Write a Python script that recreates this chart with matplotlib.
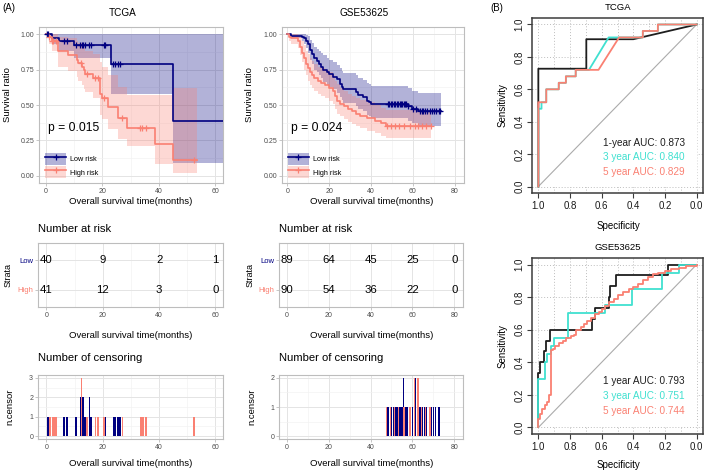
import numpy as np
import matplotlib
matplotlib.use('Agg')
import matplotlib.pyplot as plt
from matplotlib.patches import Patch
from matplotlib.lines import Line2D

plt.rcParams['font.family'] = ['Liberation Sans', 'DejaVu Sans']

# ===================== DATA =====================
# ---- TCGA Kaplan-Meier ----
tcga_low_t  = [0, 2.0, 4.5, 10.0, 23.0, 45.2, 62.8]
tcga_low_s  = [1.0, 0.975, 0.95, 0.92, 0.79, 0.39, 0.39]
tcga_low_lo = [1.0, 0.93, 0.88, 0.83, 0.575, 0.09, 0.09]
tcga_low_hi = [1.0, 1.0, 1.0, 1.0, 1.0, 1.0, 1.0]
tcga_low_cens_t = [0.4, 0.8, 6.3, 7.4, 10.6, 12.2, 12.7, 13.2, 13.7, 15.3, 15.8, 20.4, 20.9, 23.8, 24.4, 25.5, 26.1]
tcga_low_cens_n = [1, 1, 1, 1, 1, 2, 2, 2, 1, 2, 1, 1, 1, 1, 1, 1, 1]

tcga_high_t  = [0, 1.0, 2.0, 4.4, 7.9, 10.9, 11.5, 12.7, 13.3, 13.8, 16.8, 19.2, 19.8, 22.1, 25.7, 28.6, 38.7, 45.2, 53.5]
tcga_high_s  = [1.0, 0.976, 0.95, 0.88, 0.85, 0.82, 0.795, 0.77, 0.745, 0.72, 0.69, 0.58, 0.55, 0.485, 0.405, 0.34, 0.226, 0.113, 0.113]
tcga_high_lo = [1.0, 0.93, 0.88, 0.77, 0.74, 0.70, 0.67, 0.64, 0.61, 0.59, 0.55, 0.43, 0.40, 0.33, 0.26, 0.21, 0.085, 0.02, 0.02]
tcga_high_hi = [1.0, 1.0, 1.0, 0.98, 0.97, 0.95, 0.94, 0.92, 0.90, 0.88, 0.86, 0.80, 0.77, 0.71, 0.63, 0.57, 0.57, 0.62, 0.62]
tcga_high_cens_t = [1.2, 2.1, 2.6, 3.5, 12.4, 14.5, 17.4, 18.3, 20.5, 27.0, 33.5, 34.2, 35.4, 52.5]
tcga_high_cens_n = [1, 1, 1, 1, 3, 1, 1, 1, 1, 1, 1, 1, 1, 1]
tcga_p = "p = 0.015"

# ---- GSE53625 Kaplan-Meier ----
gse_low_t  = [0, 2, 7, 8, 9, 10, 11, 12, 13, 14, 15, 16, 17, 19, 20, 22, 24, 25, 26, 26.7, 33, 34, 36, 38, 39, 40, 57.5, 59.5, 62.5, 73.5]
gse_low_s  = [1.0, 0.99, 0.98, 0.97, 0.95, 0.93, 0.89, 0.86, 0.83, 0.81, 0.79, 0.77, 0.75, 0.73, 0.72, 0.70, 0.68, 0.65, 0.63, 0.61, 0.59, 0.57, 0.555, 0.53, 0.52, 0.51, 0.49, 0.47, 0.455, 0.455]
gse_low_hi = [1.0, 1.0, 1.0, 1.0, 0.995, 0.99, 0.96, 0.94, 0.91, 0.895, 0.88, 0.865, 0.85, 0.83, 0.82, 0.80, 0.785, 0.76, 0.74, 0.725, 0.71, 0.69, 0.675, 0.655, 0.645, 0.635, 0.62, 0.60, 0.585, 0.585]
gse_low_lo = [1.0, 0.97, 0.95, 0.93, 0.90, 0.87, 0.82, 0.79, 0.75, 0.73, 0.71, 0.69, 0.66, 0.64, 0.63, 0.61, 0.585, 0.555, 0.535, 0.515, 0.49, 0.47, 0.455, 0.43, 0.42, 0.41, 0.39, 0.37, 0.35, 0.35]
gse_low_cens_t = [48.0, 48.7, 49.4, 50.1, 50.9, 51.6, 52.4, 53.0, 53.7, 54.3, 55.0, 55.7, 56.4, 57.0, 57.6,
                  60.0, 61.6, 63.6, 64.2, 64.9, 65.8, 66.6, 68.3, 69.0, 70.2, 71.0, 72.4, 73.0]
gse_low_cens_n = [1, 1, 1, 1, 1, 1, 1, 1, 1, 1, 1, 2, 1, 1, 1,
                  1, 2, 1, 1, 1, 1, 1, 1, 1, 1, 1, 1, 1]

gse_high_t  = [0, 1, 2, 5, 6, 7, 8, 9, 10, 11, 12, 13, 14.5, 16, 18, 20, 22, 23, 24, 25, 27, 29, 31, 33, 35, 38, 42, 45, 47, 68.8]
gse_high_s  = [1.0, 0.98, 0.97, 0.95, 0.91, 0.87, 0.83, 0.79, 0.76, 0.73, 0.71, 0.69, 0.67, 0.655, 0.64, 0.62, 0.60, 0.56, 0.53, 0.51, 0.49, 0.47, 0.455, 0.44, 0.425, 0.41, 0.39, 0.37, 0.355, 0.355]
gse_high_hi = [1.0, 1.0, 1.0, 0.995, 0.98, 0.95, 0.92, 0.88, 0.86, 0.83, 0.81, 0.79, 0.77, 0.76, 0.745, 0.73, 0.71, 0.67, 0.645, 0.62, 0.60, 0.58, 0.565, 0.55, 0.535, 0.52, 0.50, 0.48, 0.465, 0.465]
gse_high_lo = [1.0, 0.95, 0.93, 0.90, 0.85, 0.80, 0.75, 0.71, 0.67, 0.64, 0.62, 0.60, 0.58, 0.565, 0.55, 0.53, 0.51, 0.47, 0.44, 0.42, 0.40, 0.38, 0.365, 0.35, 0.335, 0.32, 0.30, 0.28, 0.265, 0.265]
gse_high_cens_t = [47.5, 49.5, 51.3, 53.5, 56.0, 58.8, 61.0, 62.6, 64.5, 66.2, 68.5]
gse_high_cens_n = [1, 1, 1, 1, 1, 1, 2, 2, 1, 1, 1]
gse_p = "p = 0.024"

# ---- Number at risk ----
tcga_risk_times = [0, 20, 40, 60]
tcga_risk_low   = [40, 9, 2, 1]
tcga_risk_high  = [41, 12, 3, 0]
gse_risk_times  = [0, 20, 40, 60, 80]
gse_risk_low    = [89, 64, 45, 25, 0]
gse_risk_high   = [90, 54, 36, 22, 0]

# ---- ROC curves (specificity, sensitivity) ----
tcga_roc1_spec = [1.0, 1.0, 0.697, 0.697, 0.40, 0.0]
tcga_roc1_sens = [0.0, 0.727, 0.727, 0.909, 0.909, 1.0]
tcga_roc3_spec = [1.0, 1.0, 0.98, 0.98, 0.95, 0.95, 0.871, 0.871, 0.826, 0.826, 0.764, 0.764, 0.68, 0.556, 0.34, 0.34, 0.245, 0.245, 0.0]
tcga_roc3_sens = [0.0, 0.48, 0.48, 0.52, 0.52, 0.60, 0.60, 0.64, 0.64, 0.68, 0.68, 0.72, 0.72, 0.92, 0.92, 0.96, 0.96, 1.0, 1.0]
tcga_roc5_spec = [1.0, 1.0, 0.95, 0.95, 0.871, 0.871, 0.826, 0.826, 0.764, 0.764, 0.62, 0.49, 0.34, 0.34, 0.245, 0.245, 0.0]
tcga_roc5_sens = [0.0, 0.52, 0.52, 0.60, 0.60, 0.64, 0.64, 0.68, 0.68, 0.72, 0.72, 0.92, 0.92, 0.96, 0.96, 1.0, 1.0]
tcga_auc_labels = ["1-year AUC: 0.873", "3 year AUC: 0.840", "5 year AUC: 0.829"]

gse_roc1_spec = [1.0, 1.0, 0.99, 0.965, 0.95, 0.929, 0.66, 0.645, 0.553, 0.549, 0.51, 0.178, 0.0]
gse_roc1_sens = [0.0, 0.333, 0.40, 0.467, 0.533, 0.60, 0.667, 0.733, 0.80, 0.867, 0.933, 1.0, 1.0]
gse_roc3_spec = [1.0, 1.0, 0.96, 0.944, 0.919, 0.898, 0.81, 0.577, 0.41, 0.218, 0.11, 0.0]
gse_roc3_sens = [0.0, 0.30, 0.40, 0.45, 0.50, 0.55, 0.70, 0.75, 0.85, 0.95, 1.0, 1.0]
gse_roc5_spec = [1.0, 1.0, 0.988, 0.975, 0.96, 0.946, 0.932, 0.919, 0.909, 0.892, 0.871, 0.846, 0.826, 0.795,
                 0.774, 0.76, 0.73, 0.71, 0.69, 0.67, 0.64, 0.618, 0.598, 0.577, 0.556, 0.525, 0.494, 0.463,
                 0.43, 0.40, 0.37, 0.34, 0.307, 0.276, 0.245, 0.203, 0.16, 0.11, 0.068, 0.0]
gse_roc5_sens = [0.0, 0.05, 0.083, 0.114, 0.135, 0.156, 0.197, 0.477, 0.483, 0.498, 0.519, 0.533, 0.55, 0.56,
                 0.57, 0.60, 0.616, 0.637, 0.653, 0.67, 0.695, 0.71, 0.726, 0.747, 0.768, 0.788, 0.81, 0.83,
                 0.85, 0.86, 0.88, 0.907, 0.923, 0.94, 0.95, 0.96, 0.97, 0.98, 0.99, 1.0]
gse_auc_labels = ["1 year AUC: 0.793", "3 year AUC: 0.751", "5 year AUC: 0.744"]

km_yticks = [0.0, 0.25, 0.5, 0.75, 1.0]
km_yticklabels = ["0.00", "0.25", "0.50", "0.75", "1.00"]
roc_ticks = [0.0, 0.2, 0.4, 0.6, 0.8, 1.0]
roc_ticklabels = ["0.0", "0.2", "0.4", "0.6", "0.8", "1.0"]

# ===================== STYLE / LAYOUT =====================
NAVY = '#000080'
SALMON = '#FA8072'
TURQ = '#40E0D0'
BLACK = '#1E1E1E'
GRID_MAJ = '#E4E4E4'
GRID_MIN = '#F2F2F2'
BORDER = '#BDBDBD'
TXT = '#4D4D4D'

W, H = 709, 475
fig = plt.figure(figsize=(W / 100, H / 100), dpi=100)
fig.patch.set_facecolor('white')


def add_ax(l, t, r, b):
    return fig.add_axes([l / W, 1 - b / H, (r - l) / W, (b - t) / H])


def ftext(x, y, s, **kw):
    kw.setdefault('ha', 'center')
    kw.setdefault('va', 'center')
    fig.text(x / W, 1 - y / H, s, **kw)


def gg(ax, xlim, ylim, xt, xm, yt, ym, ytl=None):
    ax.set_xlim(xlim)
    ax.set_ylim(ylim)
    ax.set_xticks(xt)
    ax.set_xticks(xm, minor=True)
    ax.set_yticks(yt)
    ax.set_yticks(ym, minor=True)
    if ytl is not None:
        ax.set_yticklabels(ytl)
    ax.grid(True, which='major', color=GRID_MAJ, lw=0.7)
    ax.grid(True, which='minor', color=GRID_MIN, lw=0.45)
    ax.set_axisbelow(True)
    for sp in ax.spines.values():
        sp.set_color(BORDER)
        sp.set_linewidth(0.8)
    ax.tick_params(which='major', length=2, width=0.6, color=BORDER,
                   labelsize=5, labelcolor=TXT, pad=1.5)
    ax.tick_params(which='minor', length=0)


def km_panel(ax, groups, ptxt, xlim, xt, xm):
    gg(ax, xlim, (-0.05, 1.05), xt, xm, km_yticks, [0.125, 0.375, 0.625, 0.875], km_yticklabels)
    for t, s, lo, hi, ct, col in groups:
        t = np.asarray(t)
        s = np.asarray(s)
        ax.fill_between(t, lo, hi, step='post', color=col, alpha=0.3, lw=0, zorder=1)
        ax.step(t, s, where='post', color=col, lw=1.2, zorder=3)
        idx = np.searchsorted(t, ct, side='right') - 1
        ax.plot(ct, s[idx], ls='none', marker='+', ms=4.5, mew=0.9, color=col, zorder=4)
    ax.text(0.05, 0.352, ptxt, transform=ax.transAxes, fontsize=8.7, ha='left', va='center', color='black')
    handles = [(Patch(facecolor=NAVY, alpha=0.3, lw=0),
                Line2D([], [], color=NAVY, lw=1.2, marker='+', ms=4.5, mew=0.9)),
               (Patch(facecolor=SALMON, alpha=0.3, lw=0),
                Line2D([], [], color=SALMON, lw=1.2, marker='+', ms=4.5, mew=0.9))]
    ax.legend(handles, ['Low risk', 'High risk'], loc='lower left', bbox_to_anchor=(0.033, 0.03),
              frameon=False, fontsize=5.2, handlelength=2.9, handleheight=2.2,
              handletextpad=0.6, labelspacing=0.15, borderpad=0, borderaxespad=0)


def risk_panel(ax, times, low, high, xlim, xt, xm):
    gg(ax, xlim, (-0.6, 1.6), xt, xm, [0, 1], [], ['High', 'Low'])
    labs = ax.get_yticklabels()
    labs[0].set_color(SALMON)
    labs[1].set_color(NAVY)
    for lab in labs:
        lab.set_fontsize(5.5)
    for t, n in zip(times, low):
        ax.text(t, 1, str(n), ha='center', va='center', fontsize=8.2, color='black')
    for t, n in zip(times, high):
        ax.text(t, 0, str(n), ha='center', va='center', fontsize=8.2, color='black')


def cens_panel(ax, ct_low, n_low, ct_high, n_high, xlim, xt, xm, ymax, bw):
    yt = list(range(0, ymax + 1))
    ym = [v + 0.5 for v in range(0, ymax)]
    gg(ax, xlim, (-0.05 * ymax, 1.05 * ymax), xt, xm, yt, ym, [str(v) for v in yt])
    ax.bar(ct_low, n_low, width=bw, color=NAVY, lw=0, zorder=2)
    ax.bar(ct_high, n_high, width=bw, color=SALMON, lw=0, zorder=3)


def roc_panel(ax, curves, steps, labels, label_y):
    ax.set_xlim(1.04, -0.04)
    ax.set_ylim(-0.04, 1.04)
    for v in np.arange(0, 1.01, 0.1):
        ax.axvline(v, color='#BDBDBD', lw=0.7, ls=(0, (1, 2)), zorder=0.5)
    for h in np.arange(0, 1.01, 0.2):
        ax.axhline(h, color='#BDBDBD', lw=0.7, ls=(0, (1, 2)), zorder=0.5)
    for spec, sens, col in curves:
        ax.fill_between(spec, sens, 0, step=('post' if steps else None), color='white', lw=0, zorder=1)
    ax.plot([1, 0], [0, 1], color='#ABABAB', lw=0.8, zorder=1.5)
    for spec, sens, col in curves:
        if steps:
            ax.step(spec, sens, where='post', color=col, lw=1.3, zorder=3)
        else:
            ax.plot(spec, sens, color=col, lw=1.3, zorder=3)
    ax.set_xticks(roc_ticks)
    ax.set_xticklabels(roc_ticklabels)
    ax.set_yticks(roc_ticks)
    ax.set_yticklabels(roc_ticklabels, rotation=90, va='center')
    for sp in ax.spines.values():
        sp.set_color('#3C3C3C')
        sp.set_linewidth(1.1)
    ax.tick_params(length=3.5, width=0.8, color='#3C3C3C', labelsize=7, labelcolor='#1A1A1A', pad=2)
    for (spec, sens, col), lab, y in zip(curves, labels, label_y):
        ftext(603, y, lab, ha='left', fontsize=7.2, color=col)


# ===================== PANELS =====================
tcga_xt, tcga_xm = [0, 20, 40, 60], [10, 30, 50]
gse_xt, gse_xm = [0, 20, 40, 60, 80], [10, 30, 50, 70]

# KM
ax = add_ax(39, 27, 223, 183)
km_panel(ax, [(tcga_low_t, tcga_low_s, tcga_low_lo, tcga_low_hi, tcga_low_cens_t, NAVY),
              (tcga_high_t, tcga_high_s, tcga_high_lo, tcga_high_hi, tcga_high_cens_t, SALMON)],
         tcga_p, (-2.5, 62.8), tcga_xt, tcga_xm)
ax = add_ax(282, 27, 464, 183)
km_panel(ax, [(gse_low_t, gse_low_s, gse_low_lo, gse_low_hi, gse_low_cens_t, NAVY),
              (gse_high_t, gse_high_s, gse_high_lo, gse_high_hi, gse_high_cens_t, SALMON)],
         gse_p, (-2.5, 84.5), gse_xt, gse_xm)

# risk tables
ax = add_ax(38, 243, 223, 307)
risk_panel(ax, tcga_risk_times, tcga_risk_low, tcga_risk_high, (-3, 62.7), tcga_xt, tcga_xm)
ax = add_ax(279, 243, 463, 307)
risk_panel(ax, gse_risk_times, gse_risk_low, gse_risk_high, (-3.8, 84.2), gse_xt, gse_xm)

# censoring
ax = add_ax(38, 375, 223, 439)
cens_panel(ax, tcga_low_cens_t, tcga_low_cens_n, tcga_high_cens_t, tcga_high_cens_n,
           (-3, 62.7), tcga_xt, tcga_xm, 3, 0.6)
ax = add_ax(279, 375, 463, 439)
cens_panel(ax, gse_low_cens_t, gse_low_cens_n, gse_high_cens_t, gse_high_cens_n,
           (-3.8, 84.2), gse_xt, gse_xm, 2, 0.65)

# ROC
ax = add_ax(532, 18, 703, 193)
roc_panel(ax, [(tcga_roc1_spec, tcga_roc1_sens, BLACK),
               (tcga_roc3_spec, tcga_roc3_sens, TURQ),
               (tcga_roc5_spec, tcga_roc5_sens, SALMON)], False, tcga_auc_labels, [143, 157, 172])
ax = add_ax(532, 258, 703, 434)
roc_panel(ax, [(gse_roc1_spec, gse_roc1_sens, BLACK),
               (gse_roc3_spec, gse_roc3_sens, TURQ),
               (gse_roc5_spec, gse_roc5_sens, SALMON)], True, gse_auc_labels, [381, 396, 411])

# ===================== TEXT =====================
ftext(9, 8, "(A)", fontsize=7)
ftext(497, 8, "(B)", fontsize=7)

xlab = "Overall survival time(months)"
for cx, tl, lx in [(131, "TCGA", 8), (372, "GSE53625", 250)]:
    ftext(cx - 8, 13, tl, fontsize=7.2)
    ftext(cx, 201, xlab, fontsize=6.8)
    ftext(lx, 95, "Survival ratio", fontsize=6.8, rotation=90)
    ftext(cx, 335, xlab, fontsize=6.8)
    ftext(lx, 275, "Strata", fontsize=6.5, rotation=90)
    ftext(cx, 464, xlab, fontsize=6.8)
    ftext(lx + 2, 407, "n.censor", fontsize=6.8, rotation=90)
for lx in [38, 279]:
    ftext(lx, 229, "Number at risk", ha='left', fontsize=8.1)
    ftext(lx, 358, "Number of censoring", ha='left', fontsize=8.1)

ftext(618, 7, "TCGA", fontsize=6.8)
ftext(618, 248, "GSE53625", fontsize=6.8)
ftext(618, 226, "Specificity", fontsize=7)
ftext(618, 465, "Specificity", fontsize=7)
ftext(503, 105, "Sensitivity", fontsize=7, rotation=90)
ftext(503, 346, "Sensitivity", fontsize=7, rotation=90)

fig.savefig("out.png", dpi=100, facecolor='white')
